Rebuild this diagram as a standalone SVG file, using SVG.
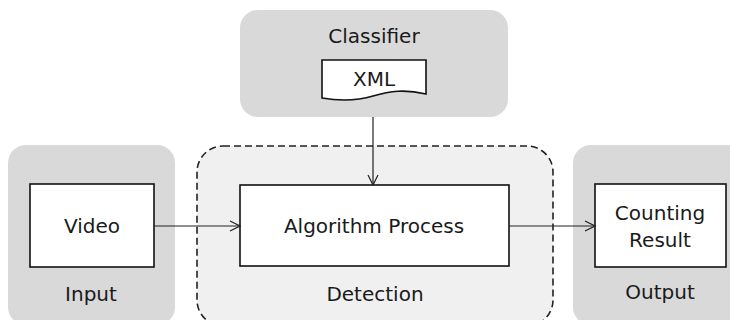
<svg xmlns="http://www.w3.org/2000/svg" width="730" height="320" viewBox="0 0 730 320">
<style>
.grp{fill:#d9d9d9;stroke:none}
.det{fill:#f0f0f0;stroke:#222;stroke-width:1.6;stroke-dasharray:7,4}
.box{fill:#fff;stroke:#111;stroke-width:1.6}
.t{font-family:"DejaVu Sans",Verdana,sans-serif;font-size:20px;fill:#1a1a1a;text-anchor:middle}
.c{fill:none;stroke:#222;stroke-width:1.2}
</style>
<defs>
<marker id="ah" viewBox="0 0 12 12" refX="11" refY="6" markerWidth="12" markerHeight="12" markerUnits="userSpaceOnUse" orient="auto">
<path d="M1,1 L11,6 L1,11" fill="none" stroke="#222" stroke-width="1.2"/>
</marker>
</defs>
<g id="classifier">
<rect class="grp" x="240" y="10" width="268" height="107" rx="18"/>
<text class="t" x="374" y="43">Classifier</text>
</g>
<g id="xml">
<path class="box" d="M322,60 H426 V94 C405,89 390,91 373,96 C356,101 340,101 322,98 Z"/>
<text class="t" x="374" y="86">XML</text>
</g>
<g id="input">
<rect class="grp" x="8" y="145" width="167" height="180" rx="18"/>
<text class="t" x="91" y="301">Input</text>
</g>
<g id="video">
<rect class="box" x="30" y="184" width="124" height="83"/>
<text class="t" x="92" y="233">Video</text>
</g>
<g id="detection">
<rect class="det" x="197" y="146" width="356" height="180" rx="26"/>
<text class="t" x="375" y="301">Detection</text>
</g>
<g id="algorithm">
<rect class="box" x="240" y="185" width="269" height="81"/>
<text class="t" x="374" y="233">Algorithm Process</text>
</g>
<g id="output">
<rect class="grp" x="573" y="145" width="180" height="180" rx="18"/>
<text class="t" x="660" y="299">Output</text>
</g>
<g id="counting">
<rect class="box" x="595" y="184" width="131" height="83"/>
<text class="t" x="660" y="220">Counting</text>
<text class="t" x="660" y="247">Result</text>
</g>
<g id="connectors">
<path class="c" d="M373,117 V185" marker-end="url(#ah)"/>
<path class="c" d="M154,226 H240" marker-end="url(#ah)"/>
<path class="c" d="M509,226 H595" marker-end="url(#ah)"/>
</g>
</svg>
